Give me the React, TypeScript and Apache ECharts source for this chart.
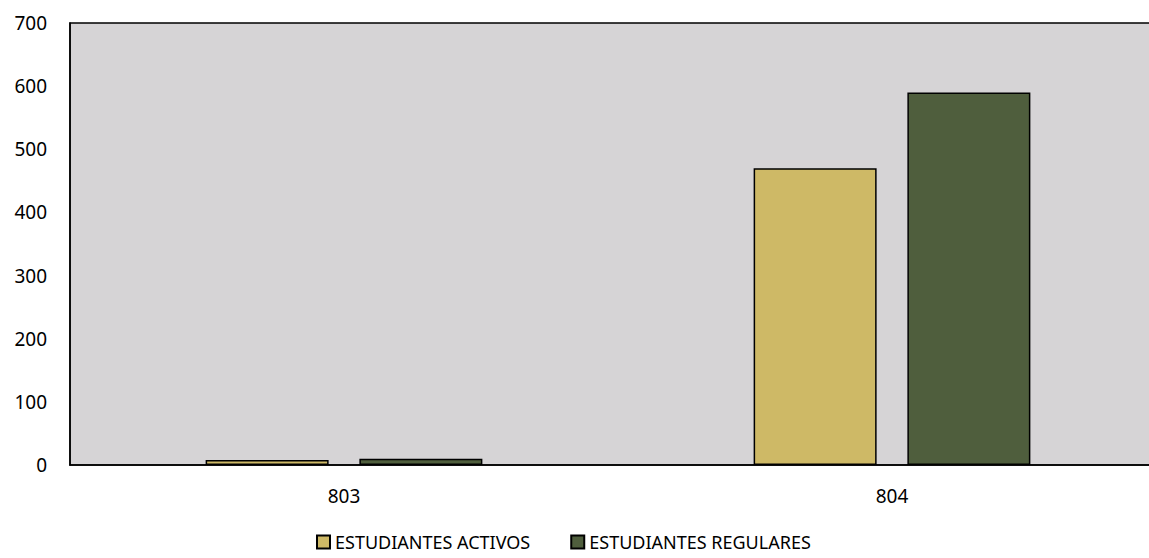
import React, { useEffect, useRef } from "react";
import * as echarts from "echarts";

const categories = ["803", "804"];
const activos = [8, 470];
const regulares = [10, 590];
const seriesNames = ["ESTUDIANTES ACTIVOS", "ESTUDIANTES REGULARES"];

export default function App() {
  const ref = useRef<HTMLDivElement>(null);
  useEffect(() => {
    document.body.style.margin = "0";
    document.body.style.overflow = "hidden";
    const chart = echarts.init(ref.current!, null, { renderer: "svg" });
    const font = "'Noto Sans', sans-serif";
    chart.setOption({
      animation: false,
      backgroundColor: "#ffffff",
      grid: {
        left: 70,
        top: 23,
        bottom: 93,
        right: 0,
        show: true,
        backgroundColor: "#D6D4D6",
        borderColor: "#000000",
        borderWidth: 1.5,
      },
      legend: {
        top: 533,
        left: 316,
        padding: 0,
        itemWidth: 13,
        itemHeight: 13,
        itemGap: 40,
        icon: "rect",
        textStyle: { fontFamily: font, fontSize: 18, color: "#000" },
        data: seriesNames,
      },
      xAxis: {
        type: "category",
        data: categories,
        axisLine: { lineStyle: { color: "#000", width: 1.5 } },
        axisTick: { show: false },
        axisLabel: { fontFamily: font, fontSize: 19, color: "#000", margin: 21 },
      },
      yAxis: {
        type: "value",
        min: 0,
        max: 700,
        interval: 100,
        axisLine: { show: true, lineStyle: { color: "#000", width: 1.5 } },
        axisTick: { show: false },
        splitLine: { show: false },
        axisLabel: { fontFamily: font, fontSize: 19, color: "#000", margin: 23 },
      },
      series: [
        {
          name: seriesNames[0],
          type: "bar",
          data: activos,
          barWidth: 123,
          barGap: "25%",
          itemStyle: { color: "#CEB966", borderColor: "#000", borderWidth: 1.5 },
        },
        {
          name: seriesNames[1],
          type: "bar",
          data: regulares,
          barWidth: 123,
          barGap: "25%",
          itemStyle: { color: "#4F5E3D", borderColor: "#000", borderWidth: 1.5 },
        },
      ],
    });
    return () => chart.dispose();
  }, []);
  return <div ref={ref} style={{ width: 1166, height: 558 }} />;
}
